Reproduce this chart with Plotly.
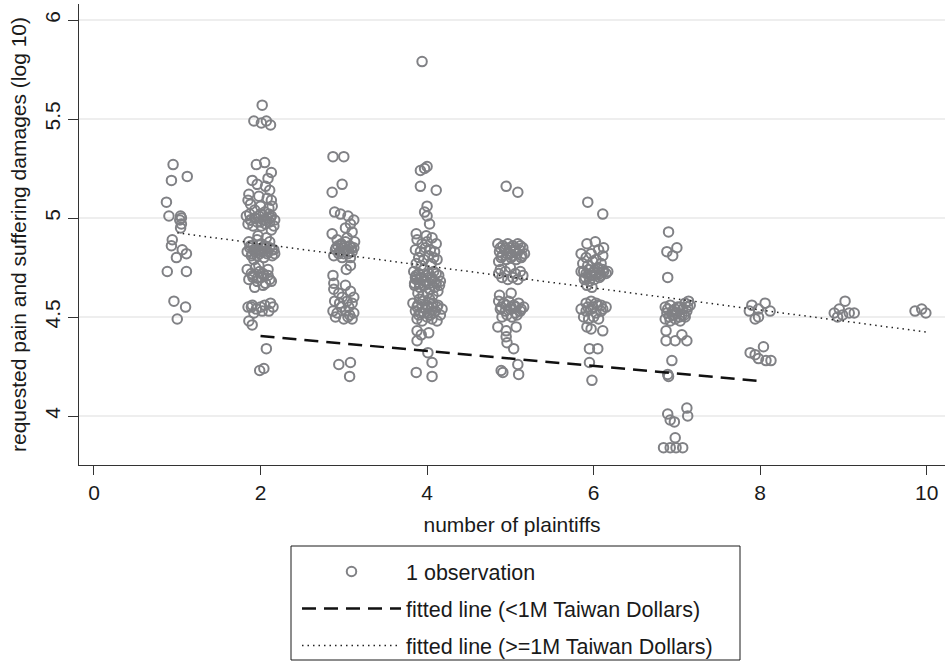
import plotly.graph_objects as go

# ---- data: (jitter offset, value) per number of plaintiffs ----
c1_dx = [-0.05, -0.07, 0.12, -0.13, -0.10, 0.04, 0.05, 0.03, 0.05, 0.04, -0.06, -0.07, 0.06, 0.11, -0.01, -0.12, 0.11, -0.04, 0.10, 0.00]
c1_y = [5.27, 5.19, 5.21, 5.08, 5.01, 5.01, 5.00, 4.99, 4.97, 4.95, 4.89, 4.86, 4.84, 4.82, 4.80, 4.73, 4.73, 4.58, 4.55, 4.49]

c2_dx = [0.02, -0.08, 0.01, 0.07, 0.12, -0.05, 0.05, 0.13, 0.09,
         -0.10, -0.04, 0.06, 0.11, -0.14, -0.02, 0.08, 0.13, -0.12, 0.00, 0.10, -0.07, 0.05, 0.14, -0.15,
         -0.17, -0.12, -0.07, -0.02, 0.03, 0.08, 0.13, 0.17, -0.15, -0.09, -0.04, 0.01, 0.06, 0.11, 0.16, -0.13, 0.00, 0.10,
         0.13,
         -0.14, -0.09, -0.04, 0.01, 0.06, 0.11, 0.16, -0.16, -0.11, -0.06, -0.01, 0.04, 0.09, 0.14, -0.08, 0.02, -0.12, 0.07, -0.03, 0.17,
         -0.16, -0.11, -0.06, -0.01, 0.04, 0.09, -0.14, -0.09, -0.04, 0.01, 0.06, 0.11, -0.07, 0.03, 0.13, -0.02,
         -0.15, -0.10, -0.05, 0.00, 0.05, 0.10, 0.15, -0.08, 0.02, 0.12,
         -0.14, -0.10, 0.07, -0.01, 0.04,
         -0.13, -0.07, -0.01, 0.05, 0.11, -0.10, -0.04, 0.02, 0.08, 0.14, -0.12, -0.06, 0.00, 0.06, 0.12, -0.09, -0.03, 0.03, 0.09, -0.11]
c2_y = [5.57, 5.49, 5.48, 5.49, 5.47, 5.27, 5.28, 5.23, 5.20,
        5.19, 5.17, 5.16, 5.14, 5.12, 5.11, 5.10, 5.09, 5.07, 5.06, 5.05, 5.04, 5.03, 5.06, 5.09,
        5.01, 4.99, 5.00, 5.01, 4.99, 5.00, 5.01, 4.99, 4.97, 4.96, 4.98, 4.96, 4.97, 4.98, 4.96, 5.02, 5.02, 5.02,
        4.94,
        4.88, 4.86, 4.89, 4.87, 4.85, 4.88, 4.84, 4.83, 4.81, 4.84, 4.82, 4.80, 4.83, 4.81, 4.79, 4.85, 4.86, 4.90, 4.91, 4.82,
        4.74, 4.72, 4.75, 4.73, 4.71, 4.74, 4.69, 4.70, 4.68, 4.70, 4.67, 4.69, 4.65, 4.66, 4.68, 4.76,
        4.55, 4.56, 4.54, 4.55, 4.56, 4.53, 4.55, 4.52, 4.53, 4.57,
        4.48, 4.46, 4.34, 4.23, 4.24,
        4.85, 4.83, 4.84, 4.86, 4.85, 4.82, 4.81, 4.83, 4.82, 4.84, 4.99, 5.00, 4.98, 4.99, 5.00, 4.71, 4.70, 4.72, 4.71, 4.55]

c3_dx = [-0.13, 0.00, -0.14, -0.02, -0.11, -0.04, 0.05, 0.12, 0.08, -0.14, 0.10, 0.02,
         -0.08, -0.03, 0.02, 0.07, 0.12, -0.10, -0.05, 0.00, 0.05, 0.10, -0.12, -0.02, 0.08, -0.07, 0.04, 0.13,
         -0.13, 0.03, 0.08,
         -0.12, -0.06, 0.02, 0.08, 0.12, -0.11, 0.04, -0.02, 0.10, -0.13, -0.08, -0.03, 0.02, 0.07, 0.12, -0.10, 0.00, 0.05, 0.10, -0.05, 0.06, -0.12,
         -0.06, 0.08, 0.07,
         -0.09, -0.03, 0.03, 0.09, -0.06, 0.00, 0.06]
c3_y = [5.31, 5.31, 5.13, 5.17, 5.03, 5.02, 5.01, 4.99, 4.97, 4.92, 4.93, 4.95,
        4.89, 4.87, 4.88, 4.86, 4.85, 4.84, 4.83, 4.85, 4.82, 4.83, 4.81, 4.80, 4.80, 4.86, 4.90, 4.88,
        4.71, 4.74, 4.76,
        4.64, 4.62, 4.66, 4.63, 4.60, 4.58, 4.58, 4.60, 4.57, 4.53, 4.52, 4.55, 4.53, 4.51, 4.52, 4.50, 4.49, 4.50, 4.49, 4.57, 4.55, 4.67,
        4.26, 4.27, 4.20,
        4.85, 4.86, 4.84, 4.85, 4.82, 4.82, 4.83]

c4_dx = [-0.06, -0.08, -0.03, 0.00, -0.08, 0.11, 0.00, -0.03, 0.00, 0.03, -0.13, 0.06, 0.11, 0.09,
         -0.12, -0.06, 0.00, -0.14, -0.08, -0.02, 0.04, -0.10, -0.04, 0.02, 0.08, -0.13, -0.07, 0.05, -0.01, 0.12,
         -0.16, -0.10, -0.04, 0.02, 0.08, 0.14, -0.13, -0.07, -0.01, 0.05, 0.11, -0.15, -0.09, -0.03, 0.03, 0.09, -0.11, -0.05, 0.01, 0.07, 0.13, -0.14, 0.16,
         -0.17, -0.11, -0.05, 0.01, 0.07, 0.13, 0.18, -0.14, -0.08, -0.02, 0.04, 0.10, 0.16, -0.12, -0.06, 0.00, 0.06, 0.12, -0.09, 0.03,
         -0.12, -0.07, -0.12, 0.02,
         0.01, 0.06, -0.13, 0.06,
         -0.13, -0.07, -0.01, 0.05, 0.11, -0.15, -0.09, -0.03, 0.03, 0.09, 0.15, -0.12, -0.06, 0.00, 0.06, 0.12, -0.10, -0.04, 0.02, 0.08]
c4_y = [5.79, 5.24, 5.25, 5.26, 5.16, 5.14, 5.06, 5.03, 5.01, 4.97, 4.92, 4.90, 4.87, 4.83,
        4.89, 4.87, 4.88, 4.84, 4.83, 4.85, 4.84, 4.80, 4.79, 4.81, 4.80, 4.77, 4.76, 4.77, 4.91, 4.79,
        4.73, 4.72, 4.74, 4.72, 4.73, 4.71, 4.69, 4.70, 4.68, 4.69, 4.67, 4.66, 4.65, 4.66, 4.64, 4.65, 4.62, 4.61, 4.62, 4.61, 4.63, 4.70, 4.68,
        4.57, 4.56, 4.58, 4.55, 4.57, 4.56, 4.54, 4.53, 4.52, 4.54, 4.51, 4.53, 4.51, 4.49, 4.48, 4.50, 4.49, 4.48, 4.59, 4.59,
        4.43, 4.41, 4.38, 4.42,
        4.32, 4.27, 4.22, 4.20,
        4.71, 4.70, 4.71, 4.70, 4.72, 4.67, 4.67, 4.68, 4.67, 4.68, 4.66, 4.55, 4.55, 4.56, 4.55, 4.55, 4.51, 4.52, 4.52, 4.52]

c5_dx = [-0.05, 0.09,
         -0.15, -0.09, -0.03, 0.03, 0.09, 0.15, -0.13, -0.07, -0.01, 0.05, 0.11, 0.17, -0.11, -0.05, 0.01, 0.07, 0.13, -0.14,
         -0.12, -0.06, 0.00, 0.06, 0.12, -0.10, -0.03, 0.03, 0.09, 0.15, -0.14,
         -0.13, 0.01,
         -0.14, -0.08, -0.02, 0.04, 0.10, 0.16, -0.12, -0.06, 0.00, 0.06, 0.12, -0.10, -0.04, 0.02, 0.08,
         -0.15, -0.05, 0.07, -0.05, -0.04, 0.04,
         -0.11, -0.09, 0.09, 0.10,
         -0.12, -0.06, 0.00, 0.06, 0.12, -0.10, -0.04, 0.02, 0.08, 0.14, -0.11, -0.05, 0.01, 0.07, 0.13]
c5_y = [5.16, 5.13,
        4.87, 4.86, 4.87, 4.86, 4.87, 4.85, 4.83, 4.84, 4.82, 4.83, 4.84, 4.82, 4.80, 4.79, 4.80, 4.79, 4.80, 4.78,
        4.74, 4.73, 4.75, 4.72, 4.73, 4.70, 4.69, 4.70, 4.69, 4.71, 4.72,
        4.61, 4.62,
        4.58, 4.57, 4.58, 4.56, 4.57, 4.55, 4.54, 4.53, 4.54, 4.52, 4.53, 4.50, 4.51, 4.50, 4.51,
        4.45, 4.43, 4.45, 4.40, 4.37, 4.34,
        4.23, 4.22, 4.26, 4.21,
        4.85, 4.85, 4.85, 4.85, 4.86, 4.81, 4.82, 4.81, 4.82, 4.81, 4.55, 4.56, 4.55, 4.55, 4.54]

c6_dx = [-0.07, 0.11, -0.08, 0.02, 0.12, 0.11,
         -0.15, -0.09, -0.03, 0.03, -0.13, -0.07, -0.01, 0.05, 0.11, 0.17, -0.15, -0.09, -0.03, 0.03, 0.09, 0.15, -0.11, -0.05, 0.01, 0.07, -0.08, -0.02, 0.06, 0.09,
         -0.09, -0.03, 0.03, 0.09, -0.15, -0.09, -0.03, 0.03, 0.09, 0.15, -0.12, -0.06, 0.00, 0.06, -0.08, -0.03, 0.11,
         -0.05, 0.05, -0.05, -0.02,
         -0.12, -0.06, 0.00, 0.06, 0.12, -0.10, -0.04, 0.02, 0.08, -0.07, -0.01, 0.05, 0.11]
c6_y = [5.08, 5.02, 4.87, 4.88, 4.85, 4.81,
        4.82, 4.80, 4.82, 4.79, 4.77, 4.76, 4.78, 4.75, 4.74, 4.73, 4.73, 4.72, 4.71, 4.72, 4.71, 4.72, 4.69, 4.68, 4.69, 4.70, 4.66, 4.65, 4.84, 4.77,
        4.57, 4.58, 4.57, 4.56, 4.54, 4.53, 4.54, 4.52, 4.53, 4.55, 4.50, 4.49, 4.50, 4.49, 4.45, 4.44, 4.43,
        4.34, 4.34, 4.27, 4.18,
        4.73, 4.74, 4.73, 4.74, 4.73, 4.70, 4.71, 4.71, 4.72, 4.55, 4.55, 4.56, 4.54]

c7_dx = [-0.10, -0.12, 0.00, -0.05, -0.11,
         -0.14, -0.08, -0.02, 0.04, 0.10, 0.16, -0.12, -0.06, 0.00, 0.06, 0.12, -0.14, -0.08, -0.02, 0.04, 0.10, 0.14,
         -0.13, -0.13, -0.02, 0.06, 0.12,
         -0.06, -0.11, -0.10,
         -0.11, -0.08, -0.03, 0.12, 0.13,
         -0.02, -0.16, -0.08, -0.01, 0.07,
         -0.11, -0.05, 0.01, 0.07, 0.13, -0.09, -0.03, 0.03, 0.09]
c7_y = [4.93, 4.83, 4.85, 4.81, 4.70,
        4.55, 4.56, 4.54, 4.55, 4.57, 4.56, 4.52, 4.51, 4.52, 4.51, 4.53, 4.49, 4.48, 4.49, 4.48, 4.50, 4.58,
        4.43, 4.38, 4.38, 4.41, 4.38,
        4.28, 4.21, 4.20,
        4.01, 3.98, 3.97, 4.04, 4.00,
        3.89, 3.84, 3.84, 3.84, 3.84,
        4.54, 4.53, 4.55, 4.54, 4.55, 4.50, 4.51, 4.50, 4.51]

c8_dx = [-0.10, 0.06, 0.12, -0.13, -0.02, -0.06, -0.02, -0.12, 0.04, -0.02, 0.07, 0.13, -0.06]
c8_y = [4.56, 4.57, 4.53, 4.53, 4.50, 4.49, 4.54, 4.32, 4.35, 4.29, 4.28, 4.28, 4.31]

c9_dx = [-0.11, -0.05, 0.02, 0.07, 0.13, -0.01, -0.07]
c9_y = [4.52, 4.54, 4.58, 4.52, 4.52, 4.51, 4.50]

c10_dx = [-0.14, -0.06, -0.01]
c10_y = [4.53, 4.54, 4.52]

# fitted lines (end points)
fit_low_x = [2, 8]
fit_low_y = [4.404, 4.177]
fit_high_x = [1, 10]
fit_high_y = [4.925, 4.424]

x_ticks = [0, 2, 4, 6, 8, 10]
y_ticks = [4, 4.5, 5, 5.5, 6]
y_tick_text = ["4", "4.5", "5", "5.5", "6"]

clusters = [(1, c1_dx, c1_y), (2, c2_dx, c2_y), (3, c3_dx, c3_y), (4, c4_dx, c4_y),
            (5, c5_dx, c5_y), (6, c6_dx, c6_y), (7, c7_dx, c7_y), (8, c8_dx, c8_y),
            (9, c9_dx, c9_y), (10, c10_dx, c10_y)]

obs_x, obs_y = [], []
for n, dxs, ys in clusters:
    for dx, yv in zip(dxs, ys):
        obs_x.append(n + dx)
        obs_y.append(yv)

FONT = "Liberation Sans, Arial, sans-serif"
GRAY = "#808185"
TXT = "#1a1a1a"

fig = go.Figure()
fig.add_trace(go.Scatter(
    x=obs_x, y=obs_y, mode="markers", name="1 observation", legendgroup="a",
    marker=dict(symbol="circle-open", size=9.5, color=GRAY, line=dict(width=2, color=GRAY)),
))
fig.add_trace(go.Scatter(
    x=fit_low_x, y=fit_low_y, mode="lines", name="fitted line (<1M Taiwan Dollars)", legendgroup="b",
    line=dict(color="#111111", width=2.5, dash="14px,8px"),
))
fig.add_trace(go.Scatter(
    x=fit_high_x, y=fit_high_y, mode="lines", name="fitted line (>=1M Taiwan Dollars)", legendgroup="c",
    line=dict(color="#222222", width=1.5, dash="1.5px,4px"),
))

# legend frame (paper coordinates of the plot area: x 79..945 px, y 4..465 px)
PW, PH = 866.0, 461.0
fig.add_shape(type="rect", xref="paper", yref="paper",
              x0=(291 - 79) / PW, x1=(740 - 79) / PW,
              y0=(465 - 546) / PH, y1=(465 - 660) / PH,
              line=dict(color=TXT, width=1), fillcolor="rgba(0,0,0,0)")

fig.update_layout(
    width=945, height=663,
    margin=dict(l=79, r=0, t=4, b=198, autoexpand=False),
    paper_bgcolor="white", plot_bgcolor="white",
    font=dict(family=FONT, size=21, color=TXT),
    showlegend=True,
    legend=dict(
        x=(297 - 79) / PW, y=(465 - 551) / PH, xanchor="left", yanchor="top",
        borderwidth=0, bgcolor="rgba(0,0,0,0)",
        font=dict(family=FONT, size=21.5, color=TXT),
        itemwidth=99, tracegroupgap=6,
    ),
    xaxis=dict(
        range=[-0.18, 10.22], tickmode="array", tickvals=x_ticks,
        showgrid=False, zeroline=False, showline=True, linecolor="#333333", linewidth=1,
        ticks="outside", ticklen=9, tickcolor="#333333", automargin=False,
        tickfont=dict(size=21),
        title=dict(text="number of plaintiffs", standoff=14, font=dict(size=21)),
    ),
    yaxis=dict(
        range=[3.7525, 6.081], tickmode="array", tickvals=y_ticks, ticktext=y_tick_text,
        tickangle=-90, automargin=False, tickfont=dict(size=21),
        showgrid=True, gridcolor="#eeeeee", gridwidth=1.5, zeroline=False,
        showline=True, linecolor="#333333", linewidth=1,
        ticks="outside", ticklen=10, tickcolor="#333333",
        title=dict(text="requested pain and suffering damages (log 10)", standoff=8, font=dict(size=21)),
    ),
)

fig.write_html("out.html", config={"displayModeBar": False},
               post_script="document.body.style.margin='0';")
